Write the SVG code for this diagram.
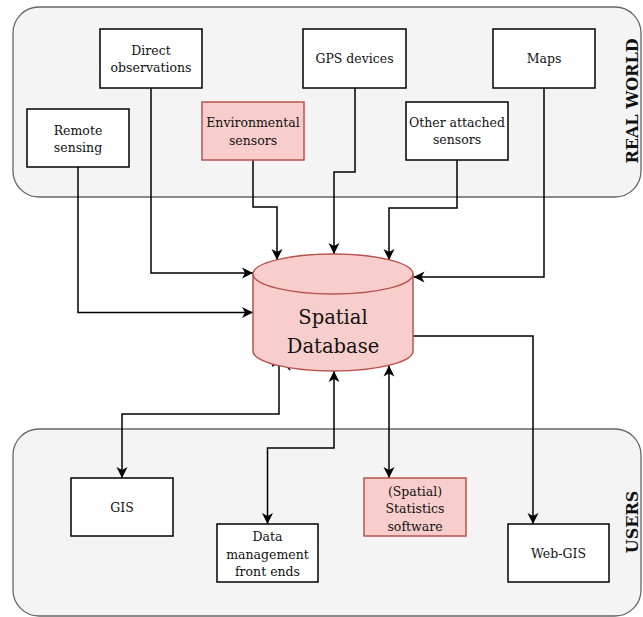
<svg xmlns="http://www.w3.org/2000/svg" width="643" height="617" viewBox="0 0 643 617">
  <style>
    .zone { fill: #f4f4f4; stroke: #666666; stroke-width: 1.3; }
    .box { fill: #ffffff; stroke: #000000; stroke-width: 1.5; }
    .hot { fill: #f8cecc; stroke: #b85450; stroke-width: 1.5; }
    .lbl { font-family: "DejaVu Serif", "Liberation Serif", serif; font-size: 12.5px; fill: #111111; text-anchor: middle; dominant-baseline: central; }
    .big { font-size: 19.5px; }
    .side { font-family: "DejaVu Serif", "Liberation Serif", serif; font-size: 16px; font-weight: bold; fill: #111111; text-anchor: middle; dominant-baseline: central; }
    .wire { fill: none; stroke: #000000; stroke-width: 1.5; }
  </style>
  <defs>
    <marker id="arrow" viewBox="0 0 12 12" refX="11" refY="6" markerWidth="12" markerHeight="12" markerUnits="userSpaceOnUse" orient="auto-start-reverse">
      <path d="M0,0.5 L11,6 L0,11.5 L3,6 Z" fill="#000000"/>
    </marker>
  </defs>

  <!-- swimlane areas -->
  <g id="real-world">
    <rect class="zone" x="13" y="7" width="628" height="190" rx="26" ry="26"/>
    <text class="side" transform="translate(632,101) rotate(-90)">REAL WORLD</text>
  </g>
  <g id="users">
    <rect class="zone" x="13" y="429" width="628" height="187" rx="26" ry="26"/>
    <text class="side" transform="translate(632,522) rotate(-90)">USERS</text>
  </g>

  <!-- connectors -->
  <g id="connectors">
    <path class="wire" d="M78,167 V312.5 H253" marker-end="url(#arrow)"/>
    <path class="wire" d="M151,88 V273 H253" marker-end="url(#arrow)"/>
    <path class="wire" d="M253,160 V207 H277 V260" marker-end="url(#arrow)"/>
    <path class="wire" d="M355,88 V172 H334 V254" marker-end="url(#arrow)"/>
    <path class="wire" d="M457,160 V208 H389 V260" marker-end="url(#arrow)"/>
    <path class="wire" d="M544,88 V277 H413.5" marker-end="url(#arrow)"/>
    <path class="wire" d="M279,365 V414 H122 V478" marker-end="url(#arrow)"/>
    <path class="wire" d="M283,361 L290,370 M279,362 L272,366"/>
    <path class="wire" d="M334,371 V448 H267.5 V524" marker-start="url(#arrow)" marker-end="url(#arrow)"/>
    <path class="wire" d="M389,365.5 V478" marker-start="url(#arrow)" marker-end="url(#arrow)"/>
    <path class="wire" d="M413,336 H533 V524" marker-end="url(#arrow)"/>
  </g>

  <!-- source nodes -->
  <g id="direct-observations">
    <rect class="box" x="100" y="29" width="102" height="59"/>
    <text class="lbl" x="151" y="50">Direct</text>
    <text class="lbl" x="151" y="67">observations</text>
  </g>
  <g id="remote-sensing">
    <rect class="box" x="27" y="109" width="102" height="58"/>
    <text class="lbl" x="78" y="130">Remote</text>
    <text class="lbl" x="78" y="147">sensing</text>
  </g>
  <g id="environmental-sensors">
    <rect class="hot" x="202" y="102" width="102" height="58"/>
    <text class="lbl" x="253" y="122">Environmental</text>
    <text class="lbl" x="253" y="140">sensors</text>
  </g>
  <g id="gps-devices">
    <rect class="box" x="303" y="29" width="103" height="59"/>
    <text class="lbl" x="354.5" y="58.5">GPS devices</text>
  </g>
  <g id="other-sensors">
    <rect class="box" x="406" y="102" width="102" height="58"/>
    <text class="lbl" x="457" y="122">Other attached</text>
    <text class="lbl" x="457" y="139">sensors</text>
  </g>
  <g id="maps">
    <rect class="box" x="493" y="29" width="102" height="59"/>
    <text class="lbl" x="544" y="58.5">Maps</text>
  </g>

  <!-- central store -->
  <g id="spatial-database">
    <path class="hot" d="M253,274 A80,20 0 0 1 413,274 L413,351 A80,20 0 0 1 253,351 Z"/>
    <path class="hot" fill="none" d="M253,274 A80,20 0 0 0 413,274"/>
    <text class="lbl big" x="333" y="317">Spatial</text>
    <text class="lbl big" x="333" y="346">Database</text>
  </g>

  <!-- consumer nodes -->
  <g id="gis">
    <rect class="box" x="71" y="478" width="102" height="58"/>
    <text class="lbl" x="122" y="507">GIS</text>
  </g>
  <g id="data-management">
    <rect class="box" x="217" y="524" width="101" height="58"/>
    <text class="lbl" x="267.5" y="536.5">Data</text>
    <text class="lbl" x="267.5" y="554">management</text>
    <text class="lbl" x="267.5" y="571">front ends</text>
  </g>
  <g id="statistics-software">
    <rect class="hot" x="364" y="478" width="102" height="58"/>
    <text class="lbl" x="415" y="491">(Spatial)</text>
    <text class="lbl" x="415" y="508">Statistics</text>
    <text class="lbl" x="415" y="526">software</text>
  </g>
  <g id="web-gis">
    <rect class="box" x="508" y="524" width="101" height="58"/>
    <text class="lbl" x="558.5" y="553">Web-GIS</text>
  </g>
</svg>
